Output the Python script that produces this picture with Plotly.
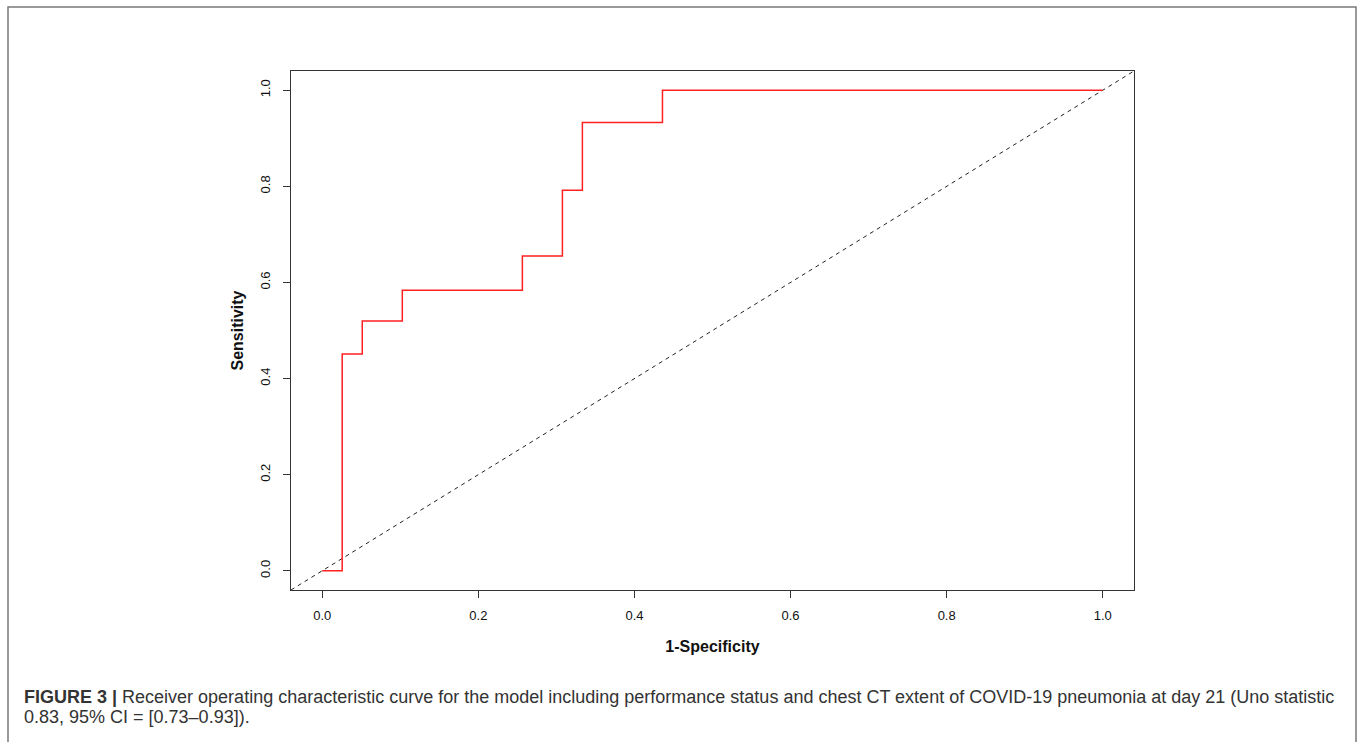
import plotly.graph_objects as go

# ROC curve data (1-specificity vs sensitivity)
fpr = [0.0, 0.0256, 0.0513, 0.1026, 0.2564, 0.3077, 0.3333, 0.4359, 1.0]
tpr = [0.0, 0.451, 0.520, 0.584, 0.655, 0.792, 0.933, 1.0, 1.0]

axis_range = [-0.04, 1.04]
tick_vals = [0.0, 0.2, 0.4, 0.6, 0.8, 1.0]
tick_text = ["0.0", "0.2", "0.4", "0.6", "0.8", "1.0"]

caption_line1 = ("<b>FIGURE 3 |</b> Receiver operating characteristic curve for the model including "
                 "performance status and chest CT extent of COVID-19 pneumonia at day 21 (Uno statistic")
caption_line2 = "0.83, 95% CI = [0.73–0.93])."

W, H = 1365, 742
L, R, T, B = 291, 1134, 71, 590
pw, ph = R - L, B - T

def px_x(x):
    return (x - L) / pw

def px_y(y):
    return (B - y) / ph

FONT = "Liberation Sans, Arial, Helvetica, sans-serif"

fig = go.Figure()

# reference diagonal
fig.add_trace(go.Scatter(
    x=axis_range, y=axis_range, mode="lines",
    line=dict(color="#222222", width=1, dash="4px,4px"),
    hoverinfo="skip", showlegend=False))

# ROC step curve
fig.add_trace(go.Scatter(
    x=fpr, y=tpr, mode="lines", line_shape="hv",
    line=dict(color="#ff2020", width=1.5),
    showlegend=False))

axis_common = dict(
    range=axis_range, tickvals=tick_vals, ticktext=tick_text,
    showgrid=False, zeroline=False, showline=True, mirror=True,
    linecolor="#333333", linewidth=1,
    ticks="outside", ticklen=7, tickcolor="#333333", tickwidth=1,
    tickfont=dict(family=FONT, size=13, color="#111111"),
)

fig.update_xaxes(**axis_common, ticklabelstandoff=6,
                 title=dict(text="<b>1-Specificity</b>", font=dict(family=FONT, size=16, color="#111111"),
                            standoff=19))
fig.update_yaxes(**axis_common, tickangle=-90, ticklabelstandoff=8,
                 title=dict(text="<b>Sensitivity</b>", font=dict(family=FONT, size=16, color="#111111"),
                            standoff=10))

# outer figure frame
fig.add_shape(type="rect", xref="paper", yref="paper",
              x0=px_x(8), x1=px_x(1356), y0=px_y(760), y1=px_y(7),
              line=dict(color="#7a7a7a", width=1.5), fillcolor="rgba(0,0,0,0)", layer="below")

fig.add_annotation(xref="paper", yref="paper", x=px_x(22), y=px_y(697),
                   xanchor="left", yanchor="middle", showarrow=False, align="left",
                   text=caption_line1, font=dict(family=FONT, size=18, color="#333333"))
fig.add_annotation(xref="paper", yref="paper", x=px_x(22), y=px_y(717),
                   xanchor="left", yanchor="middle", showarrow=False, align="left",
                   text=caption_line2, font=dict(family=FONT, size=18, color="#333333"))

fig.update_layout(
    width=W, height=H,
    margin=dict(l=L, r=W - R, t=T, b=H - B, autoexpand=False),
    paper_bgcolor="white", plot_bgcolor="white",
    font=dict(family=FONT),
)

fig.write_html("out.html", config={"displayModeBar": False},
               post_script="document.body.style.margin='0';")
